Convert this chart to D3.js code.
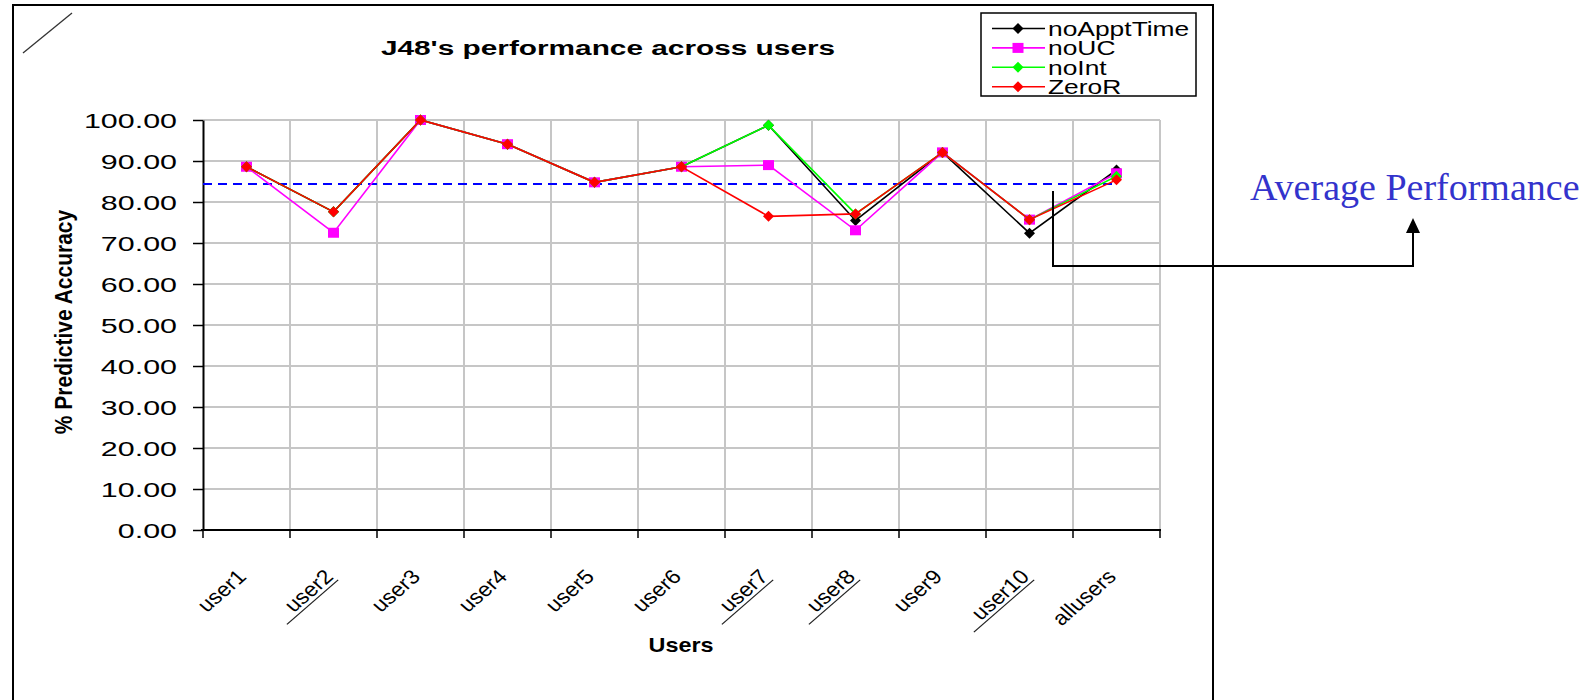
<!DOCTYPE html>
<html>
<head>
<meta charset="utf-8">
<title>J48's performance across users</title>
<script src="https://cdn.jsdelivr.net/npm/d3@7"></script>
<style>
body { margin: 0; background: #fff; }
svg { display: block; font-family: "Liberation Sans", Arial, sans-serif; }
</style>
</head>
<body>
<script>
// users along the x axis
var users = ["user1", "user2", "user3", "user4", "user5", "user6",
             "user7", "user8", "user9", "user10", "allusers"];

// % predictive accuracy, one list per series
var noApptTime = [88.6, 77.6, 100, 94.1, 84.8, 88.6, 98.7, 75.5, 92.1, 72.4, 87.8];
var noUC       = [88.6, 72.5, 100, 94.1, 84.8, 88.6, 89.0, 73.1, 92.1, 75.7, 87.0];
var noInt      = [88.6, 77.6, 100, 94.1, 84.8, 88.6, 98.7, 77.1, 92.1, 75.7, 86.3];
var zeroR      = [88.6, 77.6, 100, 94.1, 84.8, 88.6, 76.5, 77.1, 92.1, 75.7, 85.4];

var seriesNames = ["noApptTime", "noUC", "noInt", "ZeroR"];
var yTicks = [0, 10, 20, 30, 40, 50, 60, 70, 80, 90, 100];

// average performance (dashed line)
var avgAccuracy = 84.4;

// labels that carry a hand drawn underline
var underlined = ["user2", "user7", "user8", "user10"];

var w = 1596;
var h = 700;
var plot = {left: 203, right: 1160, top: 120, bottom: 530};

var series = [
  {name: seriesNames[0], values: noApptTime, color: "#000000", marker: "diamond"},
  {name: seriesNames[1], values: noUC,       color: "#ff00ff", marker: "square"},
  {name: seriesNames[2], values: noInt,      color: "#00ff00", marker: "diamond"},
  {name: seriesNames[3], values: zeroR,      color: "#ff0000", marker: "diamond"}
];

var svg = d3.select("body").append("svg")
            .attr("width", w)
            .attr("height", h);

var xScale = d3.scaleBand()
               .domain(users)
               .range([plot.left, plot.right]);
var yScale = d3.scaleLinear()
               .domain([0, 100])
               .range([plot.bottom, plot.top]);
var bw = xScale.bandwidth();

function cx(i) { return xScale(users[i]) + bw / 2; }

function marker(g, type, x, y, color) {
  if (type === "square") {
    g.append("rect")
     .attr("x", x - 5.5).attr("y", y - 5)
     .attr("width", 11).attr("height", 10)
     .attr("fill", color);
  } else {
    g.append("path")
     .attr("d", "M" + x + "," + (y - 5.5) + "L" + (x + 5.5) + "," + y +
                "L" + x + "," + (y + 5.5) + "L" + (x - 5.5) + "," + y + "Z")
     .attr("fill", color);
  }
}

// outer frame and the stray stroke in the corner
svg.append("rect")
   .attr("x", 13).attr("y", 5)
   .attr("width", 1200).attr("height", 720)
   .attr("fill", "none").attr("stroke", "#000").attr("stroke-width", 2);
svg.append("line")
   .attr("x1", 23).attr("y1", 53).attr("x2", 72).attr("y2", 13)
   .attr("stroke", "#333").attr("stroke-width", 1.3);

// gridlines
var boundaries = users.map(function(u) { return xScale(u); }).concat([plot.right]);
svg.append("g").selectAll("line")
   .data(yTicks.slice(1))
   .enter().append("line")
   .attr("x1", plot.left).attr("x2", plot.right)
   .attr("y1", function(d) { return yScale(d); })
   .attr("y2", function(d) { return yScale(d); })
   .attr("stroke", "#c6c6c6").attr("stroke-width", 2);
svg.append("g").selectAll("line")
   .data(boundaries.slice(1))
   .enter().append("line")
   .attr("x1", function(d) { return d; }).attr("x2", function(d) { return d; })
   .attr("y1", plot.top).attr("y2", plot.bottom)
   .attr("stroke", "#c6c6c6").attr("stroke-width", 2);

// y axis
var yAxis = svg.append("g")
               .attr("transform", "translate(" + plot.left + ",0)")
               .call(d3.axisLeft(yScale).tickValues(yTicks)
                       .tickFormat(d3.format(".2f"))
                       .tickSize(10).tickSizeOuter(0));
yAxis.select(".domain").attr("stroke", "#000").attr("stroke-width", 2);
yAxis.selectAll(".tick line").attr("stroke", "#000").attr("stroke-width", 1.5);
yAxis.selectAll(".tick text")
     .attr("x", null).attr("dy", "0.36em")
     .attr("transform", "translate(-26,0) scale(1.45,1)")
     .attr("font-size", 21).attr("font-family", "Liberation Sans, Arial")
     .attr("fill", "#000");

// x axis line and ticks at the band edges
svg.append("line")
   .attr("x1", plot.left - 2).attr("x2", plot.right + 1)
   .attr("y1", plot.bottom).attr("y2", plot.bottom)
   .attr("stroke", "#000").attr("stroke-width", 2);
svg.append("g").selectAll("line")
   .data(boundaries)
   .enter().append("line")
   .attr("x1", function(d) { return d; }).attr("x2", function(d) { return d; })
   .attr("y1", plot.bottom).attr("y2", plot.bottom + 8)
   .attr("stroke", "#000").attr("stroke-width", 1.5);

// slanted x labels
var xLab = svg.append("g").selectAll("g")
              .data(users)
              .enter().append("g")
              .attr("transform", function(d) {
                return "translate(" + (xScale(d) + bw / 2 + 1) + ",578) scale(1.15,1) rotate(-45)";
              });
xLab.append("text")
    .attr("text-anchor", "end")
    .attr("font-size", 20)
    .text(function(d) { return d; });
xLab.filter(function(d) { return underlined.indexOf(d) >= 0; })
    .each(function() {
      var g = d3.select(this);
      var len = g.select("text").node().getComputedTextLength();
      g.append("line")
       .attr("x1", -len - 12).attr("x2", 1)
       .attr("y1", 3.5).attr("y2", 3.5)
       .attr("stroke", "#222").attr("stroke-width", 1.1);
    });

// axis titles and chart title
svg.append("text")
   .attr("transform", "translate(608,55) scale(1.42,1)")
   .attr("text-anchor", "middle")
   .attr("font-weight", "bold").attr("font-size", 21)
   .text("J48's performance across users");
svg.append("text")
   .attr("transform", "translate(681,652) scale(1.17,1)")
   .attr("text-anchor", "middle")
   .attr("font-weight", "bold").attr("font-size", 20)
   .text("Users");
svg.append("text")
   .attr("transform", "translate(72,322) scale(1.15,1) rotate(-90)")
   .attr("text-anchor", "middle")
   .attr("font-weight", "bold").attr("font-size", 21)
   .text("% Predictive Accuracy");

// average line
svg.append("line")
   .attr("x1", plot.left).attr("x2", cx(users.length - 1))
   .attr("y1", yScale(avgAccuracy)).attr("y2", yScale(avgAccuracy))
   .attr("stroke", "#0000ff").attr("stroke-width", 2)
   .attr("stroke-dasharray", "9,6");

// series
var line = d3.line()
             .x(function(d, i) { return cx(i); })
             .y(function(d) { return yScale(d); });

series.forEach(function(s) {
  var g = svg.append("g");
  g.append("path")
   .attr("d", line(s.values))
   .attr("fill", "none")
   .attr("stroke", s.color).attr("stroke-width", 1.6);
  s.values.forEach(function(v, i) {
    marker(g, s.marker, cx(i), yScale(v), s.color);
  });
});

// legend
var legend = svg.append("g");
legend.append("rect")
      .attr("x", 981).attr("y", 13)
      .attr("width", 215).attr("height", 83)
      .attr("fill", "#fff").attr("stroke", "#000").attr("stroke-width", 1.5);
series.forEach(function(s, i) {
  var ly = 28.5 + i * 19.4;
  legend.append("line")
        .attr("x1", 992).attr("x2", 1045)
        .attr("y1", ly).attr("y2", ly)
        .attr("stroke", s.color).attr("stroke-width", 1.6);
  marker(legend, s.marker, 1018, ly, s.color);
  legend.append("text")
        .attr("transform", "translate(1048," + ly + ") scale(1.32,1)")
        .attr("dy", "0.36em")
        .attr("font-size", 20)
        .text(s.name);
});

// "Average Performance" call-out
var note = svg.append("g");
note.append("text")
    .attr("x", 1250).attr("y", 200)
    .attr("font-family", "Liberation Serif, Times New Roman, serif")
    .attr("font-size", 38)
    .attr("fill", "#3333cc")
    .text("Average Performance");
note.append("path")
    .attr("d", "M1053,191V266H1413V233")
    .attr("fill", "none").attr("stroke", "#000").attr("stroke-width", 2);
note.append("path")
    .attr("d", "M1413,218L1420,233H1406Z")
    .attr("fill", "#000");
</script>
</body>
</html>
